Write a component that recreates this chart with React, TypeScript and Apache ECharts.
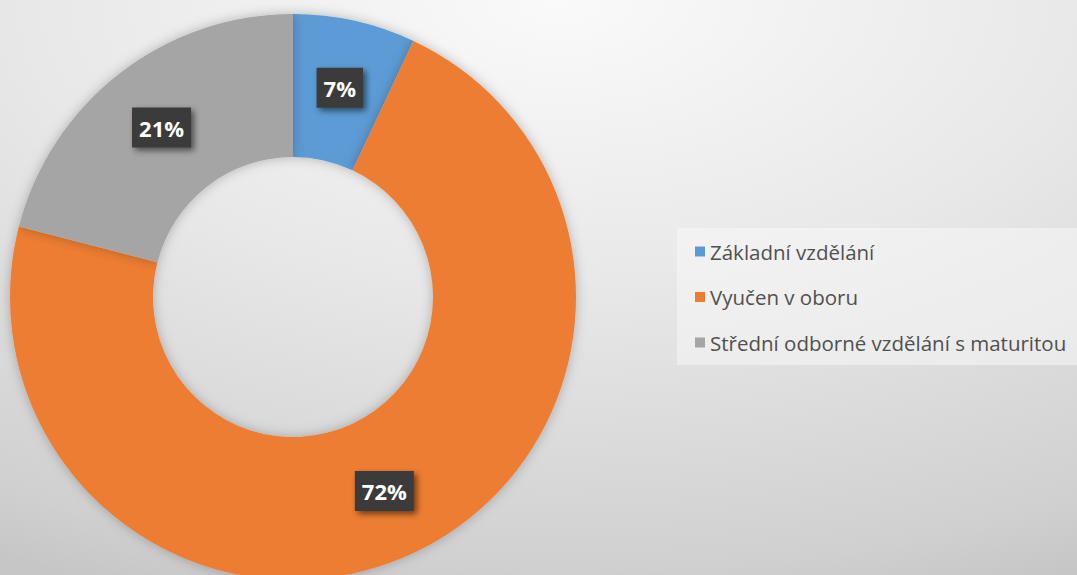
import React, { useEffect, useRef } from "react";
import * as echarts from "echarts";

const categories = [
  "Základní vzdělání",
  "Vyučen v oboru",
  "Střední odborné vzdělání s maturitou",
];
const values = [7, 72, 21];
const colors = ["#5B9BD5", "#ED7D31", "#A5A5A5"];

export default function App() {
  const ref = useRef<HTMLDivElement>(null);
  useEffect(() => {
    if (!ref.current) return;
    const chart = echarts.init(ref.current, undefined, { renderer: "svg" });
    chart.setOption({
      animation: false,
      graphic: [
        {
          type: "rect",
          z: -10,
          silent: true,
          shape: { x: 0, y: 0, width: 1077, height: 575 },
          style: {
            fill: {
              type: "radial",
              x: 0.52,
              y: 0,
              r: 1.1,
              colorStops: [
                { offset: 0, color: "#fafafa" },
                { offset: 0.45, color: "#e8e8e8" },
                { offset: 0.9, color: "#d0d0d0" },
                { offset: 1, color: "#c6c6c6" },
              ],
            },
          },
        },
        {
          type: "rect",
          z: -5,
          silent: true,
          shape: { x: 677, y: 228, width: 400, height: 137 },
          style: { fill: "rgba(248,248,248,0.55)" },
        },
      ],
      legend: {
        orient: "vertical",
        left: 690,
        top: 236,
        icon: "rect",
        itemWidth: 10,
        itemHeight: 10,
        itemGap: 24.5,
        data: categories,
        textStyle: {
          fontFamily: "Open Sans",
          fontSize: 20.5,
          lineHeight: 20,
          color: "#505050",
        },
      },
      series: [
        {
          type: "pie",
          center: [293, 297],
          radius: [140, 283],
          startAngle: 90,
          clockwise: true,
          avoidLabelOverlap: false,
          silent: true,
          itemStyle: {
            shadowBlur: 12,
            shadowColor: "rgba(0,0,0,0.25)",
          },
          labelLine: { show: false },
          label: {
            show: true,
            position: "inside",
            formatter: (p: any) => `${p.value}%`,
            fontFamily: "Open Sans",
            fontWeight: "bold",
            fontSize: 22,
            lineHeight: 22,
            color: "#ffffff",
            backgroundColor: "#3a3a3a",
            padding: [9, 7, 9, 7],
            shadowColor: "rgba(0,0,0,0.55)",
            shadowBlur: 6,
            shadowOffsetX: 3,
            shadowOffsetY: 3,
          },
          data: categories.map((name, i) => ({
            name,
            value: values[i],
            itemStyle: { color: colors[i] },
          })),
        },
      ],
    });
    return () => chart.dispose();
  }, []);
  return (
    <div
      ref={ref}
      style={{ position: "absolute", left: 0, top: 0, width: 1077, height: 575 }}
    />
  );
}
